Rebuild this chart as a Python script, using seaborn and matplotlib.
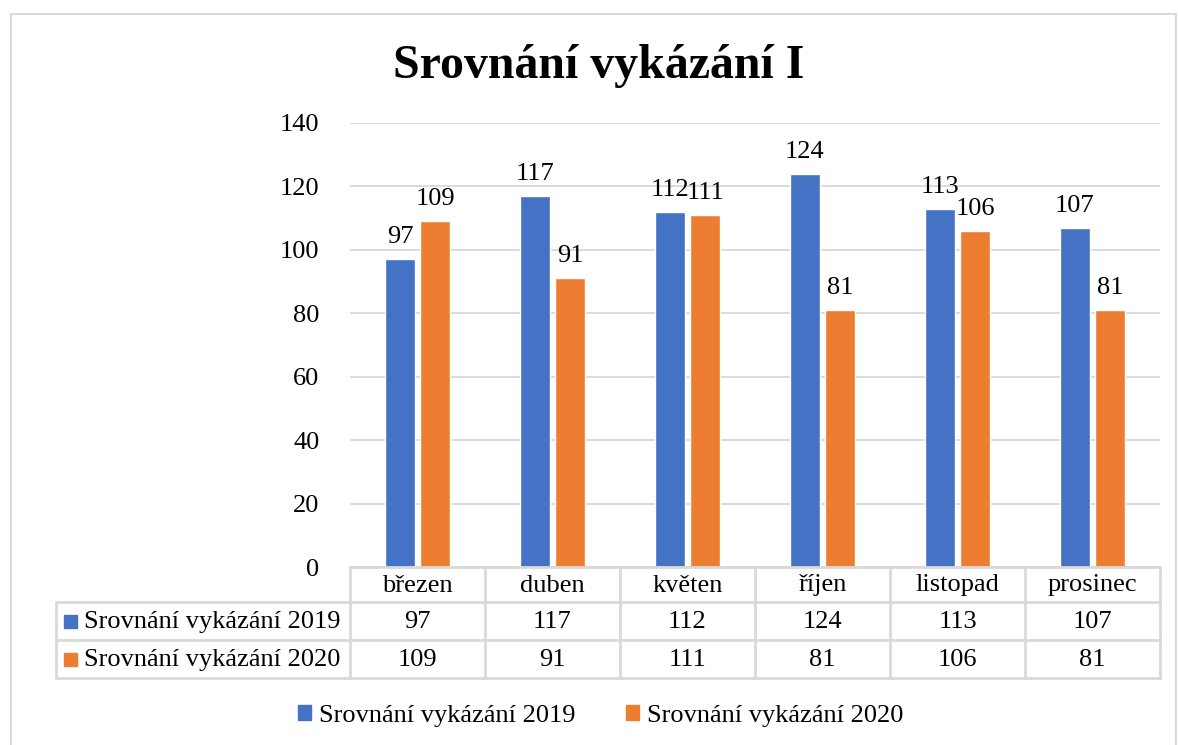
import matplotlib
matplotlib.use("Agg")
import matplotlib.pyplot as plt
from matplotlib.patches import Rectangle
from matplotlib.lines import Line2D
import seaborn as sns
import pandas as pd

# Data
months = ["březen", "duben", "květen", "říjen", "listopad", "prosinec"]
series_names = ["Srovnání vykázání 2019", "Srovnání vykázání 2020"]
values_2019 = [97, 117, 112, 124, 113, 107]
values_2020 = [109, 91, 111, 81, 106, 81]
colors = ["#4472C4", "#ED7D31"]
title = "Srovnání vykázání I"

df = pd.DataFrame({
    "month": months * 2,
    "series": [series_names[0]] * len(months) + [series_names[1]] * len(months),
    "value": values_2019 + values_2020,
})

sns.set_style("white")
plt.rcParams["font.family"] = ["Liberation Serif", "DejaVu Serif"]
plt.rcParams["text.color"] = "black"
plt.rcParams["ytick.color"] = "black"

FS = 19
W, H = 1178, 745
fig = plt.figure(figsize=(W / 100, H / 100), dpi=100)

# plot area in pixels
x0, x1 = 350, 1160
y_top, y_bot = 123, 567
ax = fig.add_axes([x0 / W, 1 - y_bot / H, (x1 - x0) / W, (y_bot - y_top) / H])

sns.barplot(data=df, x="month", y="value", hue="series", palette=colors,
            width=0.52, gap=0.12, ax=ax, legend=False, saturation=1)
for c in ax.containers:
    ax.bar_label(c, fontsize=FS, padding=8, color="black")

ax.set_ylim(0, 140)
ax.set_yticks(range(0, 141, 20))
ax.set_xlim(-0.5, len(months) - 0.5)
ax.set_xlabel("")
ax.set_ylabel("")
ax.set_xticks([])
ax.tick_params(axis="y", labelsize=FS, length=0, pad=22)
ax.grid(axis="y", color="#d9d9d9", linewidth=1.3)
ax.set_axisbelow(True)
for s in ax.spines.values():
    s.set_visible(False)

# Title
fig.text(599 / W, 1 - 66 / H, title, ha="center", va="center",
         fontsize=34.5, fontweight="bold")

# Data table below the plot
lc = "#d9d9d9"
lw = 2
tx0 = 56
rows_y = [567, 602, 640, 678]
col_w = (x1 - x0) / len(months)


def fx(px):
    return px / W


def fy(py):
    return 1 - py / H


# horizontal lines
fig.add_artist(Line2D([fx(x0), fx(x1)], [fy(rows_y[0])] * 2, color=lc, lw=lw))
for yy in rows_y[1:]:
    fig.add_artist(Line2D([fx(tx0), fx(x1)], [fy(yy)] * 2, color=lc, lw=lw))
# vertical lines
fig.add_artist(Line2D([fx(tx0)] * 2, [fy(rows_y[1]), fy(rows_y[3])], color=lc, lw=lw))
for i in range(len(months) + 1):
    xx = x0 + i * col_w
    fig.add_artist(Line2D([fx(xx)] * 2, [fy(rows_y[0]), fy(rows_y[3])], color=lc, lw=lw))

# header row
for i, m in enumerate(months):
    fig.text(fx(x0 + (i + 0.5) * col_w), fy((rows_y[0] + rows_y[1]) / 2 + 7), m,
             ha="center", va="baseline", fontsize=FS)
# value rows
for r, (name, vals) in enumerate(zip(series_names, [values_2019, values_2020])):
    yc = (rows_y[r + 1] + rows_y[r + 2]) / 2
    fig.add_artist(Rectangle((fx(64), fy(yc + 6.5)), 13 / W, 13 / H,
                             color=colors[r], transform=fig.transFigure))
    fig.text(fx(84), fy(yc + 7), name, ha="left", va="baseline", fontsize=FS)
    for i, v in enumerate(vals):
        fig.text(fx(x0 + (i + 0.5) * col_w), fy(yc + 7), str(v),
                 ha="center", va="baseline", fontsize=FS)

# Legend
handles = [Rectangle((0, 0), 1, 1, color=c) for c in colors]
fig.legend(handles, series_names, loc="center", bbox_to_anchor=(0.51, fy(716)),
           ncol=2, frameon=False, fontsize=FS, handlelength=0.5, handleheight=0.5,
           handletextpad=0.3, columnspacing=1.9)

# chart border
fig.add_artist(Rectangle((fx(11), fy(760)), (1176 - 11) / W, (760 - 14) / H,
                         fill=False, edgecolor="#d9d9d9", lw=1.5,
                         transform=fig.transFigure))

fig.savefig("out.png", dpi=100)
